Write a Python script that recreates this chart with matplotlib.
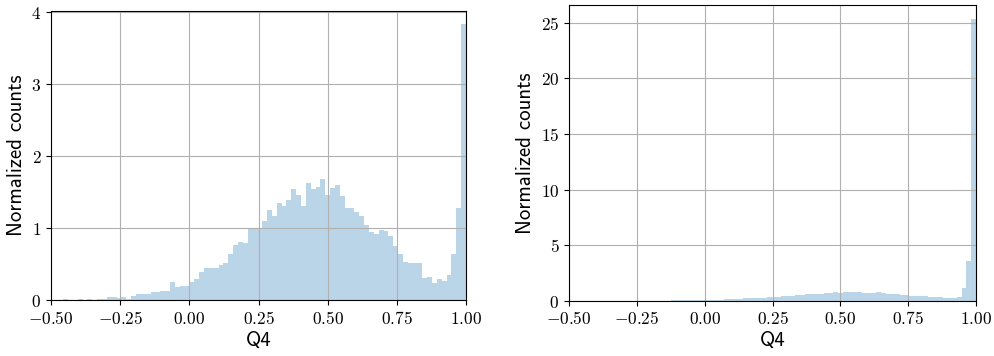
import numpy as np
import matplotlib
matplotlib.use("Agg")
import matplotlib.pyplot as plt

plt.rcParams["mathtext.fontset"] = "cm"

# bin edges: 85 bins of width 1/57 ending at Q4 = 1
n_bins = 85
bin_width = 1 / 57
edges = np.linspace(1 - n_bins * bin_width, 1, n_bins + 1)

# normalized counts per bin (left panel)
left_counts = [
    0, 0, 0.02, 0, 0, 0.01, 0.005, 0.015, 0.005, 0.01,
    0.02, 0.037, 0.035, 0.033, 0.046, 0.02, 0.055, 0.09, 0.088, 0.09,
    0.115, 0.115, 0.12, 0.13, 0.25, 0.185, 0.195, 0.195, 0.25, 0.29,
    0.39, 0.44, 0.45, 0.44, 0.48, 0.51, 0.64, 0.76, 0.81, 0.79,
    0.98, 0.995, 0.99, 1.1, 1.25, 1.17, 1.35, 1.31, 1.39, 1.54,
    1.46, 1.31, 1.62, 1.54, 1.57, 1.68, 1.45, 1.55, 1.59, 1.44,
    1.27, 1.28, 1.22, 1.16, 1.04, 0.94, 0.91, 0.97, 0.95, 0.89,
    0.75, 0.64, 0.52, 0.51, 0.51, 0.51, 0.31, 0.32, 0.24, 0.29,
    0.26, 0.35, 0.64, 1.27, 3.82,
]

# normalized counts per bin (right panel)
right_counts = [
    0, 0, 0, 0, 0, 0, 0, 0, 0, 0,
    0, 0, 0, 0, 0, 0, 0, 0, 0, 0,
    0, 0.02, 0.03, 0.02, 0.03, 0.03, 0.04, 0.04, 0.05, 0.07,
    0.09, 0.1, 0.12, 0.13, 0.15, 0.17, 0.2, 0.21, 0.22, 0.25,
    0.27, 0.3, 0.33, 0.32, 0.4, 0.42, 0.41, 0.5, 0.55, 0.6,
    0.62, 0.58, 0.6, 0.66, 0.72, 0.75, 0.7, 0.8, 0.82, 0.78,
    0.74, 0.7, 0.72, 0.68, 0.75, 0.7, 0.6, 0.6, 0.62, 0.55,
    0.5, 0.44, 0.45, 0.4, 0.38, 0.36, 0.33, 0.3, 0.28, 0.27,
    0.24, 0.35, 1.1, 3.55, 25.3,
]

x_ticks = [-0.5, -0.25, 0.0, 0.25, 0.5, 0.75, 1.0]
left_yticks = [0, 1, 2, 3, 4]
right_yticks = [0, 5, 10, 15, 20, 25]

fig = plt.figure(figsize=(9.95, 3.56), dpi=100)
ax1 = fig.add_axes([0.0513, 0.1573, 0.4171, 0.8126])
ax2 = fig.add_axes([0.5719, 0.1553, 0.4090, 0.8298])

for ax, counts, yticks in [(ax1, left_counts, left_yticks),
                           (ax2, right_counts, right_yticks)]:
    ax.hist(edges[:-1], bins=edges, weights=counts, histtype="stepfilled",
            color="C0", alpha=0.3, linewidth=0)
    ax.set_xlim(-0.5, 1.0)
    ax.set_ylim(0, max(counts) * 1.05)
    ax.grid(True)
    ax.set_xticks(x_ticks)
    ax.set_xticklabels([r"$%.2f$" % t for t in x_ticks])
    ax.set_yticks(yticks)
    ax.set_yticklabels([r"$%d$" % t for t in yticks])
    ax.tick_params(labelsize=12.5)
    ax.set_xlabel("Q4", fontsize=15, family="cmss10", labelpad=2)
    ax.set_ylabel("Normalized counts", fontsize=15, family="cmss10",
                  labelpad=4)

fig.savefig("out.png", dpi=100)
